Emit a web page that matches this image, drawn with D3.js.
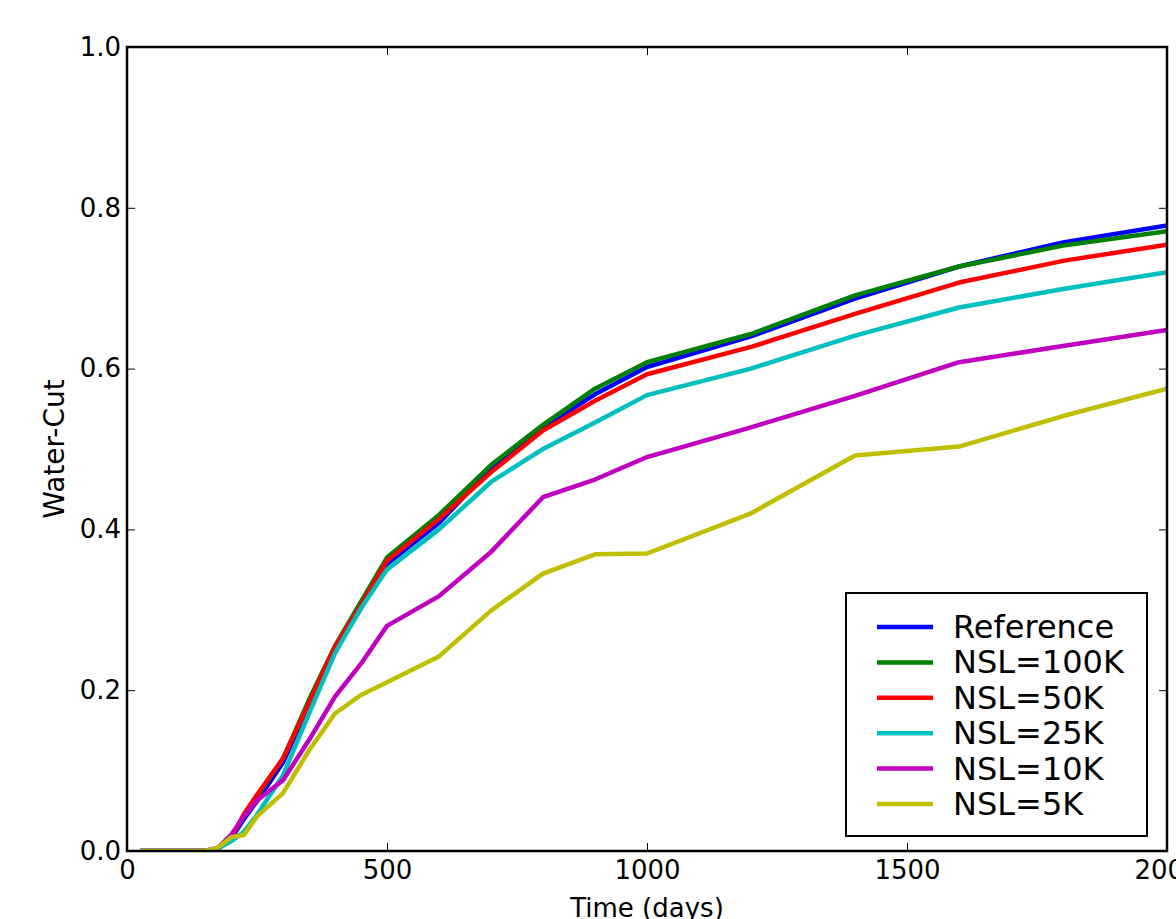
<!DOCTYPE html>
<html>
<head>
<meta charset="utf-8">
<script src="https://cdn.jsdelivr.net/npm/d3@7"></script>
<style>
  body { margin: 0; background: #fff; }
  svg { display: block; font-family: 'DejaVu Sans', sans-serif; }
</style>
</head>
<body>
<svg id="vis" width="1176" height="919"></svg>
<script>
// time samples (days)
const days = [25, 150, 175, 200, 225, 250, 300, 350, 400, 450, 500, 600, 700, 800, 900, 1000, 1200, 1400, 1600, 1800, 2000];

const seriesNames = ['Reference', 'NSL=100K', 'NSL=50K', 'NSL=25K', 'NSL=10K', 'NSL=5K'];
const seriesColors = ['#0000ff', '#008000', '#ff0000', '#00bfbf', '#bf00bf', '#bfbf00'];

const wcReference = [0, 0, 0.003, 0.015, 0.040, 0.062, 0.110, 0.182, 0.250, 0.302, 0.357, 0.408, 0.476, 0.527, 0.568, 0.602, 0.640, 0.687, 0.727, 0.757, 0.778];
const wcNsl100k   = [0, 0, 0.003, 0.016, 0.044, 0.068, 0.115, 0.188, 0.255, 0.310, 0.365, 0.418, 0.480, 0.530, 0.575, 0.608, 0.643, 0.691, 0.727, 0.753, 0.771];
const wcNsl50k    = [0, 0, 0.003, 0.016, 0.046, 0.070, 0.115, 0.184, 0.254, 0.306, 0.361, 0.413, 0.471, 0.523, 0.560, 0.593, 0.627, 0.668, 0.707, 0.734, 0.754];
const wcNsl25k    = [0, 0, 0.003, 0.012, 0.024, 0.045, 0.094, 0.171, 0.246, 0.302, 0.350, 0.400, 0.459, 0.500, 0.533, 0.567, 0.600, 0.641, 0.676, 0.699, 0.720];
const wcNsl10k    = [0, 0, 0.004, 0.020, 0.043, 0.063, 0.088, 0.138, 0.192, 0.233, 0.280, 0.317, 0.372, 0.440, 0.462, 0.490, 0.527, 0.566, 0.608, 0.628, 0.648];
const wcNsl5k     = [0, 0, 0.004, 0.017, 0.020, 0.043, 0.072, 0.125, 0.171, 0.194, 0.210, 0.242, 0.299, 0.345, 0.369, 0.370, 0.420, 0.492, 0.503, 0.541, 0.575];

const xTicks = [0, 500, 1000, 1500, 2000];
const yTicks = [0, 0.2, 0.4, 0.6, 0.8, 1.0];

const allSeries = [wcReference, wcNsl100k, wcNsl50k, wcNsl25k, wcNsl10k, wcNsl5k];

const margin = { top: 47, left: 127 };
const width = 1040;
const height = 804;
const fontSize = 26;

const svg = d3.select('#vis');
const g = svg.append('g')
    .attr('transform', 'translate(' + margin.left + ', ' + margin.top + ')');

const xScale = d3.scaleLinear().domain([0, 2000]).range([0, width]);
const yScale = d3.scaleLinear().domain([0, 1]).range([height, 0]);

// clip so lines stop at the frame
g.append('clipPath').attr('id', 'plotClip')
    .append('rect').attr('width', width).attr('height', height);

const line = d3.line()
    .x((d, i) => xScale(days[i]))
    .y((d) => yScale(d));

const plot = g.append('g').attr('clip-path', 'url(#plotClip)');
allSeries.forEach((vals, k) => {
    plot.append('path')
        .datum(vals)
        .attr('d', line)
        .attr('fill', 'none')
        .attr('stroke', seriesColors[k])
        .attr('stroke-width', 4.5)
        .attr('stroke-linejoin', 'round');
});

// axes with inward ticks, matplotlib style
function styleAxis(sel) {
    sel.select('.domain').remove();
    sel.selectAll('.tick line').attr('stroke', '#000').attr('stroke-width', 1);
    sel.selectAll('.tick text')
        .attr('font-size', fontSize + 'px')
        .attr('font-family', 'DejaVu Sans')
        .attr('fill', '#000');
}

g.append('g')
    .attr('transform', 'translate(0, ' + height + ')')
    .call(d3.axisBottom(xScale).tickValues(xTicks).tickFormat(d3.format('d')).tickSize(-8).tickPadding(10))
    .call(styleAxis);

g.append('g')
    .call(d3.axisTop(xScale).tickValues(xTicks).tickFormat('').tickSize(-8))
    .call(styleAxis);

g.append('g')
    .call(d3.axisLeft(yScale).tickValues(yTicks).tickFormat(d3.format('.1f')).tickSize(-8).tickPadding(6))
    .call(styleAxis);

g.append('g')
    .attr('transform', 'translate(' + width + ', 0)')
    .call(d3.axisRight(yScale).tickValues(yTicks).tickFormat('').tickSize(-8))
    .call(styleAxis);

// frame
g.append('rect')
    .attr('width', width)
    .attr('height', height)
    .attr('fill', 'none')
    .attr('stroke', '#000')
    .attr('stroke-width', 2.5);

// axis labels
g.append('text')
    .attr('x', width / 2)
    .attr('y', height + 66)
    .attr('font-size', fontSize + 'px')
    .attr('text-anchor', 'middle')
    .text('Time (days)');

g.append('text')
    .attr('transform', 'translate(' + (-63) + ', ' + (height / 2) + ') rotate(-90)')
    .attr('font-size', '28px')
    .attr('text-anchor', 'middle')
    .text('Water-Cut');

// legend
const legend = g.append('g')
    .attr('transform', 'translate(' + (846 - margin.left) + ', ' + (593 - margin.top) + ')');

legend.append('rect')
    .attr('width', 301)
    .attr('height', 243)
    .attr('fill', '#fff')
    .attr('stroke', '#000')
    .attr('stroke-width', 2);

seriesNames.forEach((name, k) => {
    const rowY = 34 + k * 35.4;
    legend.append('line')
        .attr('x1', 31).attr('x2', 87)
        .attr('y1', rowY).attr('y2', rowY)
        .attr('stroke', seriesColors[k])
        .attr('stroke-width', 4.5);
    legend.append('text')
        .attr('x', 107)
        .attr('y', rowY + 11)
        .attr('font-size', '32px')
        .text(name);
});
</script>
</body>
</html>
